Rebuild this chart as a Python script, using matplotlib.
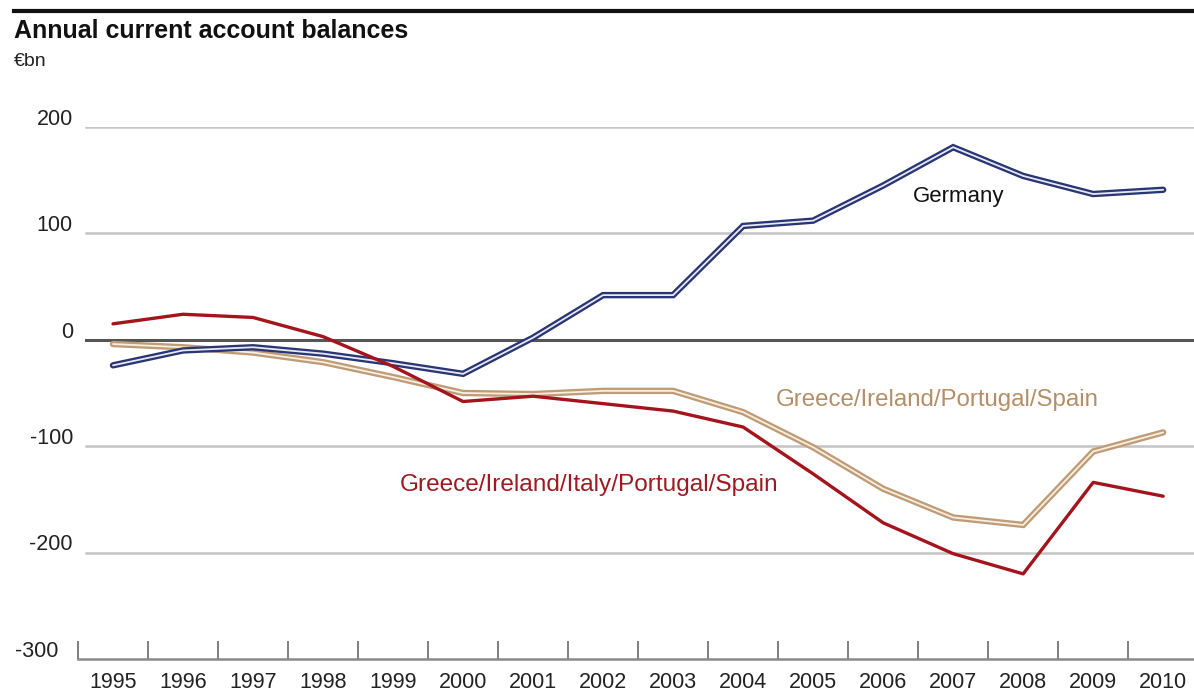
import matplotlib
matplotlib.use("Agg")
import matplotlib.pyplot as plt
from matplotlib import font_manager
from matplotlib.lines import Line2D

# ---- data (EUR bn) ----
years = [1995, 1996, 1997, 1998, 1999, 2000, 2001, 2002,
         2003, 2004, 2005, 2006, 2007, 2008, 2009, 2010]
germany = [-24, -10, -7, -13, -22, -32, 2, 42,
           42, 107, 112, 145, 181, 154, 137, 141]
giips = [15, 24, 21, 3, -25, -58, -53, -60,
         -67, -82, -126, -172, -201, -220, -134, -147]
gips = [-4, -7, -12, -21, -35, -50, -51, -48,
        -48, -68, -101, -140, -167, -174, -105, -87]
ytick_values = [200, 100, 0, -100, -200, -300]
title_text = "Annual current account balances"
unit_text = "\u20acbn"
label_germany = "Germany"
label_gips = "Greece/Ireland/Portugal/Spain"
label_giips = "Greece/Ireland/Italy/Portugal/Spain"

available = {f.name for f in font_manager.fontManager.ttflist}
narrow = "Liberation Sans Narrow" if "Liberation Sans Narrow" in available else "Liberation Sans"
FONT = ["Liberation Sans", "DejaVu Sans"]
plt.rcParams["font.family"] = FONT

W, H = 1194, 693
fig = plt.figure(figsize=(W / 100, H / 100), dpi=100)
fig.patch.set_facecolor("white")

# axes box in pixels: left 78, right edge of figure, top at the 200 line, bottom at -300
ax_l, ax_r, ax_t, ax_b = 78, 1194, 127, 659
ax = fig.add_axes([ax_l / W, 1 - ax_b / H, (ax_r - ax_l) / W, (ax_b - ax_t) / H])
ax.set_xlim(1994.53, 2010.44)
ax.set_ylim(-300, 200)
ax.set_facecolor("white")
for s in ["top", "right", "left"]:
    ax.spines[s].set_visible(False)
ax.spines["bottom"].set_color("#8a8a8a")
ax.spines["bottom"].set_linewidth(1.8)

# gridlines start a little to the right of the axis origin
grid_start = 8 / (ax_r - ax_l)
for v in ytick_values[:-1]:
    if v == 0:
        ax.axhline(v, xmin=grid_start, xmax=1, color="#555555", lw=2.2, zorder=1)
    else:
        ax.axhline(v, xmin=grid_start, xmax=1, color="#c4c4c4", lw=1.8, zorder=1)

# year ticks sit between the years, labels sit on the years
ax.set_xticks([y - 0.5 for y in years])
ax.tick_params(axis="x", direction="in", length=13, width=1.2, color="#6a6a6a",
               labelbottom=False)
ax.set_yticks([])
xt = ax.get_xaxis_transform()
for y in years:
    ax.text(y, -24 / (ax_b - ax_t), str(y), transform=xt, ha="center", va="center",
            fontsize=15.5, color="#222222", clip_on=False)
yt = ax.get_yaxis_transform()
for v in ytick_values:
    # the bottom label steps left to clear the first tick mark
    right = -5 if v != -300 else -20
    ax.text(right / (ax_r - ax_l), v + 2, f"{v}", transform=yt, ha="right", va="baseline",
            fontsize=15.5, color="#222222", clip_on=False)

# double-stroke lines
ax.plot(years, germany, color="#2a3573", lw=4.6, solid_joinstyle="miter",
        solid_capstyle="round", zorder=4, clip_on=False)
ax.plot(years, germany, color="#e6e9f6", lw=1.3, solid_joinstyle="miter",
        solid_capstyle="round", zorder=5, clip_on=False)
ax.plot(years, gips, color="#bf9c76", lw=4.6, solid_joinstyle="miter",
        solid_capstyle="round", zorder=3, clip_on=False)
ax.plot(years, gips, color="#f7efe2", lw=1.3, solid_joinstyle="miter",
        solid_capstyle="round", zorder=3.5, clip_on=False)
ax.plot(years, giips, color="#a3141d", lw=2.4, solid_joinstyle="round",
        solid_capstyle="round", zorder=6, clip_on=False)

ax.text(2006.42, 135, label_germany, fontsize=16, color="#111111",
        ha="left", va="center", zorder=7)
ax.text(2004.47, -57, label_gips, fontsize=17.3, color="#b48e66",
        ha="left", va="center", zorder=7)
ax.text(1999.09, -136, label_giips, fontsize=17.6, color="#9e1a20",
        ha="left", va="center", zorder=7)

# header: rule, title, unit
fig.add_artist(Line2D([14 / W, 1], [1 - 11 / H, 1 - 11 / H], color="#111111", lw=3.0))
fig.text(14 / W, 1 - 31 / H, title_text, fontsize=18, fontweight="bold",
         family=[narrow, "DejaVu Sans"], color="#111111", ha="left", va="center")
fig.text(14 / W, 1 - 62 / H, unit_text, fontsize=14, color="#222222",
         ha="left", va="center")

fig.savefig("out.png", dpi=100, facecolor="white")
